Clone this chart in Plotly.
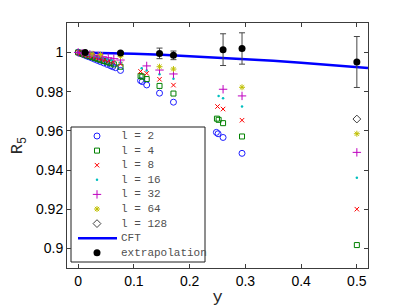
import plotly.graph_objects as go

# ---- data ----
l2_x = [0, 0.004, 0.008, 0.012, 0.016, 0.02, 0.025, 0.03, 0.035, 0.04, 0.046, 0.052, 0.058, 0.062, 0.067, 0.076, 0.112, 0.115, 0.123, 0.146, 0.171, 0.248, 0.251, 0.26, 0.294]
l2_y = [1.0, 0.9995, 0.9991, 0.9986, 0.9981, 0.9977, 0.9971, 0.9965, 0.9959, 0.9953, 0.9946, 0.9939, 0.9932, 0.9927, 0.9922, 0.9908, 0.9856, 0.9851, 0.9834, 0.9792, 0.9746, 0.9592, 0.9585, 0.9566, 0.9485]

l4_x = [0, 0.004, 0.008, 0.012, 0.016, 0.02, 0.025, 0.03, 0.035, 0.04, 0.046, 0.052, 0.058, 0.064, 0.076, 0.112, 0.115, 0.123, 0.146, 0.171, 0.249, 0.252, 0.26, 0.294, 0.5]
l4_y = [1.0, 0.9996, 0.9992, 0.9988, 0.9985, 0.9981, 0.9976, 0.9971, 0.9967, 0.9962, 0.9956, 0.995, 0.9945, 0.9939, 0.9927, 0.988, 0.9876, 0.9864, 0.9829, 0.979, 0.9662, 0.9656, 0.9639, 0.9571, 0.9017]

l8_x = [0, 0.005, 0.01, 0.015, 0.02, 0.025, 0.03, 0.036, 0.042, 0.048, 0.055, 0.063, 0.076, 0.112, 0.123, 0.146, 0.171, 0.25, 0.26, 0.294, 0.5]
l8_y = [1.0, 0.9996, 0.9992, 0.9988, 0.9984, 0.998, 0.9976, 0.9971, 0.9966, 0.9962, 0.9956, 0.995, 0.9941, 0.9903, 0.9893, 0.9863, 0.9833, 0.9724, 0.9711, 0.9654, 0.920]

l16_x = [0, 0.006, 0.012, 0.018, 0.024, 0.03, 0.037, 0.044, 0.052, 0.06, 0.076, 0.114, 0.123, 0.146, 0.171, 0.252, 0.26, 0.294, 0.5]
l16_y = [1.0, 0.9996, 0.9992, 0.9988, 0.9984, 0.998, 0.9976, 0.9971, 0.9966, 0.9961, 0.995, 0.9919, 0.9908, 0.9888, 0.9866, 0.9778, 0.9766, 0.9724, 0.936]

l32_x = [0, 0.007, 0.014, 0.021, 0.028, 0.036, 0.044, 0.054, 0.064, 0.076, 0.123, 0.146, 0.171, 0.26, 0.294, 0.5]
l32_y = [1.0, 0.9996, 0.9993, 0.999, 0.9986, 0.9982, 0.9978, 0.9973, 0.9968, 0.9961, 0.9931, 0.991, 0.989, 0.9812, 0.9778, 0.949]

l64_x = [0.012, 0.025, 0.04, 0.076, 0.146, 0.171, 0.294, 0.5]
l64_y = [0.9997, 0.9993, 0.9989, 0.998, 0.9927, 0.9915, 0.9822, 0.9585]

l128_x = [0.5]
l128_y = [0.966]

cft_x = [0, 0.05, 0.1, 0.15, 0.2, 0.25, 0.3, 0.35, 0.4, 0.45, 0.5, 0.52]
cft_y = [1.0, 0.9998, 0.9993, 0.9988, 0.9981, 0.9974, 0.9966, 0.9957, 0.9947, 0.9937, 0.9926, 0.9921]

ext_x = [0.0125, 0.076, 0.146, 0.171, 0.26, 0.294, 0.5]
ext_y = [1.0, 0.9997, 0.9995, 0.9985, 1.0014, 1.002, 0.9951]
ext_err = [0.0003, 0.0005, 0.0027, 0.0022, 0.0081, 0.008, 0.013]

x_ticks = [0, 0.1, 0.2, 0.3, 0.4, 0.5]
x_ticktext = ["0", "0.1", "0.2", "0.3", "0.4", "0.5"]
y_ticks = [0.9, 0.92, 0.94, 0.96, 0.98, 1.0]
y_ticktext = ["0.9", "0.92", "0.94", "0.96", "0.98", "1"]

legend_labels = ["l = 2", "l = 4", "l = 8", "l = 16", "l = 32", "l = 64", "l = 128", "CFT", "extrapolation"]

# ---- styles ----
BLUE = "rgb(30,30,255)"
GREEN = "rgb(0,128,0)"
RED = "rgb(255,0,0)"
CYAN = "rgb(0,191,191)"
MAG = "rgb(191,0,191)"
YEL = "rgb(191,191,0)"
GRAY = "rgb(64,64,64)"

series = [
    (l2_x, l2_y, dict(symbol="circle-open", size=6, color=BLUE, line=dict(width=1, color=BLUE))),
    (l4_x, l4_y, dict(symbol="square-open", size=5, color=GREEN, line=dict(width=1, color=GREEN))),
    (l8_x, l8_y, dict(symbol="x-thin-open", size=4.5, color=RED, line=dict(width=1, color=RED))),
    (l16_x, l16_y, dict(symbol="circle", size=2.5, color=CYAN, line=dict(width=0))),
    (l32_x, l32_y, dict(symbol="cross-thin-open", size=6, color=MAG, line=dict(width=1, color=MAG))),
    (l64_x, l64_y, dict(symbol="asterisk-open", size=5, color=YEL, line=dict(width=1, color=YEL))),
    (l128_x, l128_y, dict(symbol="diamond-open", size=6, color=GRAY, line=dict(width=1, color=GRAY))),
]

fig = go.Figure()

fig.add_trace(go.Scatter(x=cft_x, y=cft_y, mode="lines", line=dict(color="rgb(0,0,255)", width=2.5),
                         showlegend=False, hoverinfo="skip"))
for xs, ys, mk in series:
    fig.add_trace(go.Scatter(x=xs, y=ys, mode="markers", marker=mk, showlegend=False))

fig.add_trace(go.Scatter(x=ext_x, y=ext_y, mode="markers",
                         marker=dict(symbol="circle", size=7, color="black"),
                         error_y=dict(type="data", array=ext_err, color="rgb(70,70,70)", thickness=1, width=3),
                         showlegend=False))

# ---- custom legend (screen-pixel coordinates on an overlay axis) ----
OFF = 8  # page body margin of the browser
L, R, T, B = 67, 368, 23, 268  # plot area in screenshot pixels
box = dict(x0=71, x1=205, y0=127, y1=262)
row0, row_gap = 136, 14.6
sym_x, txt_x = 97, 119

for i, (xs, ys, mk) in enumerate(series):
    yy = row0 + i * row_gap
    fig.add_trace(go.Scatter(x=[sym_x], y=[yy], xaxis="x2", yaxis="y2", mode="markers", marker=mk,
                             showlegend=False, hoverinfo="skip"))
y_cft = row0 + 7 * row_gap
fig.add_trace(go.Scatter(x=[78, 117], y=[y_cft, y_cft], xaxis="x2", yaxis="y2", mode="lines",
                         line=dict(color="rgb(0,0,255)", width=2.5), showlegend=False, hoverinfo="skip"))
y_ext = row0 + 8 * row_gap
fig.add_trace(go.Scatter(x=[sym_x], y=[y_ext], xaxis="x2", yaxis="y2", mode="markers",
                         marker=dict(symbol="circle", size=7, color="black"), showlegend=False, hoverinfo="skip"))

annotations = []
for i, lab in enumerate(legend_labels):
    annotations.append(dict(x=txt_x, y=row0 + i * row_gap, xref="x2", yref="y2", text=lab,
                            showarrow=False, xanchor="left", yanchor="middle",
                            font=dict(family="Liberation Mono", size=11, color="rgb(80,80,80)")))

shapes = [dict(type="rect", xref="x2", yref="y2", x0=box["x0"], x1=box["x1"], y0=box["y0"], y1=box["y1"],
               line=dict(color="rgb(30,30,30)", width=1), fillcolor="white", layer="below")]

axis_font = dict(family="Liberation Sans", size=14, color="black")
title_font = dict(family="Liberation Mono", size=17, color="rgb(40,40,40)")

W, H = 407, 306
fig.update_layout(
    width=W, height=H,
    margin=dict(l=L - OFF, r=W - (R - OFF), t=T - OFF, b=H - (B - OFF)),
    paper_bgcolor="white", plot_bgcolor="white",
    showlegend=False,
    xaxis=dict(range=[-0.02, 0.52], tickvals=x_ticks, ticktext=x_ticktext, automargin=False,
               ticks="inside", ticklen=4, tickcolor="rgb(60,60,60)", showline=True, linecolor="rgb(60,60,60)",
               linewidth=1, mirror="ticks", showgrid=False, zeroline=False, tickfont=axis_font,
               title=dict(text="y", font=title_font, standoff=2)),
    yaxis=dict(range=[0.89, 1.015], tickvals=y_ticks, ticktext=y_ticktext, automargin=False,
               ticks="inside", ticklen=4, tickcolor="rgb(60,60,60)", showline=True, linecolor="rgb(60,60,60)",
               linewidth=1, mirror="ticks", showgrid=False, zeroline=False, tickfont=axis_font,
               title=dict(text="R<sub>5</sub>", font=title_font, standoff=10)),
    xaxis2=dict(range=[L, R], overlaying="x", visible=False, domain=[0, 1], automargin=False),
    yaxis2=dict(range=[B, T], overlaying="y", visible=False, domain=[0, 1], automargin=False),
    annotations=annotations,
    shapes=shapes,
)

fig.write_html("out.html")
